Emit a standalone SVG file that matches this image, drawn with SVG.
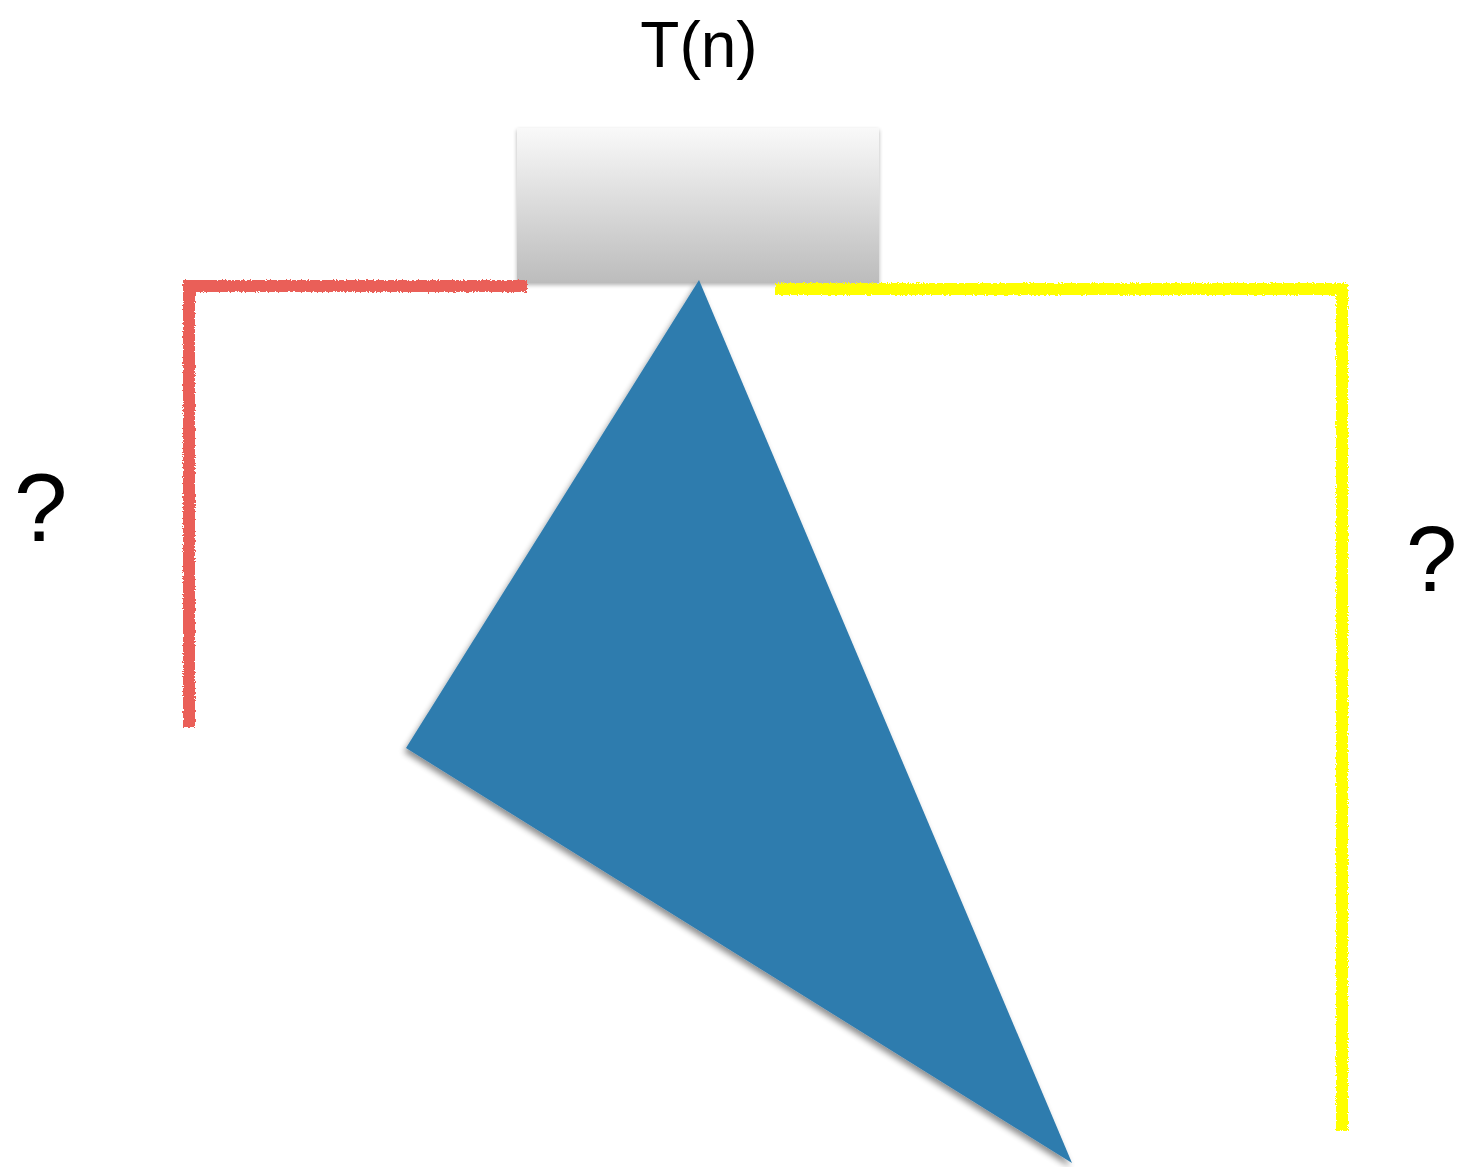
<svg xmlns="http://www.w3.org/2000/svg" width="1462" height="1167" viewBox="0 0 1462 1167">
<defs>
<style>
.lbl{font-family:"Liberation Sans",Arial,sans-serif;fill:#000;}
.chalk{fill:none;stroke-width:12;stroke-linecap:butt;stroke-linejoin:miter;filter:url(#rough);}
</style>
<linearGradient id="boxg" x1="0" y1="0" x2="0" y2="1">
<stop offset="0" stop-color="#f9f9f9"/>
<stop offset="1" stop-color="#bcbcbc"/>
</linearGradient>
<filter id="rough" x="-5%" y="-5%" width="110%" height="110%">
<feTurbulence type="fractalNoise" baseFrequency="0.6" numOctaves="2" seed="3" result="n"/>
<feDisplacementMap in="SourceGraphic" in2="n" scale="4" xChannelSelector="R" yChannelSelector="G"/>
</filter>
<filter id="shadow" x="-10%" y="-10%" width="120%" height="120%">
<feGaussianBlur in="SourceAlpha" stdDeviation="3"/>
<feOffset dx="-2" dy="4" result="b"/>
<feComponentTransfer><feFuncA type="linear" slope="0.45"/></feComponentTransfer>
<feMerge><feMergeNode/><feMergeNode in="SourceGraphic"/></feMerge>
</filter>
<filter id="boxshadow" x="-5%" y="-5%" width="110%" height="115%">
<feGaussianBlur in="SourceAlpha" stdDeviation="2"/>
<feOffset dx="0" dy="2"/>
<feComponentTransfer><feFuncA type="linear" slope="0.3"/></feComponentTransfer>
<feMerge><feMergeNode/><feMergeNode in="SourceGraphic"/></feMerge>
</filter>
</defs>
<rect width="1462" height="1167" fill="#fff"/>
<g id="title"><text class="lbl" x="699" y="67" font-size="64" text-anchor="middle">T(n)</text></g>
<g id="box"><rect x="517" y="128" width="362" height="155" fill="url(#boxg)" filter="url(#boxshadow)"/></g>
<g id="connectors">
<path class="chalk" stroke="#ea5f59" d="M527,286 L189,286 L189,727"/>
<path class="chalk" stroke="#ffff00" d="M775,289 L1342,289 L1342,1131"/>
</g>
<g id="triangle"><polygon points="699,280 406,748 1072,1163" fill="#2e7bae" filter="url(#shadow)"/></g>
<g id="q-left"><text class="lbl" x="14" y="541" font-size="96">?</text></g>
<g id="q-right"><text class="lbl" x="1406" y="591" font-size="92">?</text></g>
</svg>
